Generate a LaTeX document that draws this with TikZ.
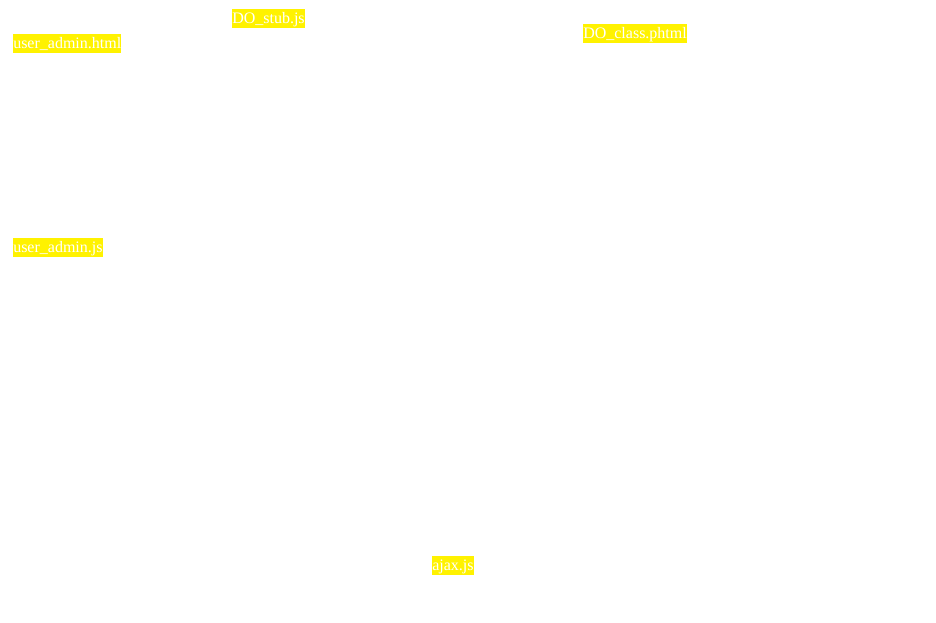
\documentclass[tikz,border=0pt]{standalone}
\usepackage{fontspec}
\setmainfont{Liberation Serif}
\begin{document}
\begin{tikzpicture}[x=0.75pt,y=-0.75pt,
  lbl/.style={fill=yellow,text=white,font=\fontsize{12pt}{14pt}\selectfont,
    inner xsep=0pt,inner ysep=0pt,text height=10.6pt,text depth=3.65pt,anchor=north west}]
\useasboundingbox[fill=white] (0,0) rectangle (936,623);
\node[lbl] (stub) at (232,9) {DO\_stub.js};
\node[lbl] (html) at (13,34) {user\_admin.html};
\node[lbl] (cls) at (583,24) {DO\_class.phtml};
\node[lbl] (js) at (13,238) {user\_admin.js};
\node[lbl] (ajax) at (432,556) {ajax.js};
\end{tikzpicture}
\end{document}
